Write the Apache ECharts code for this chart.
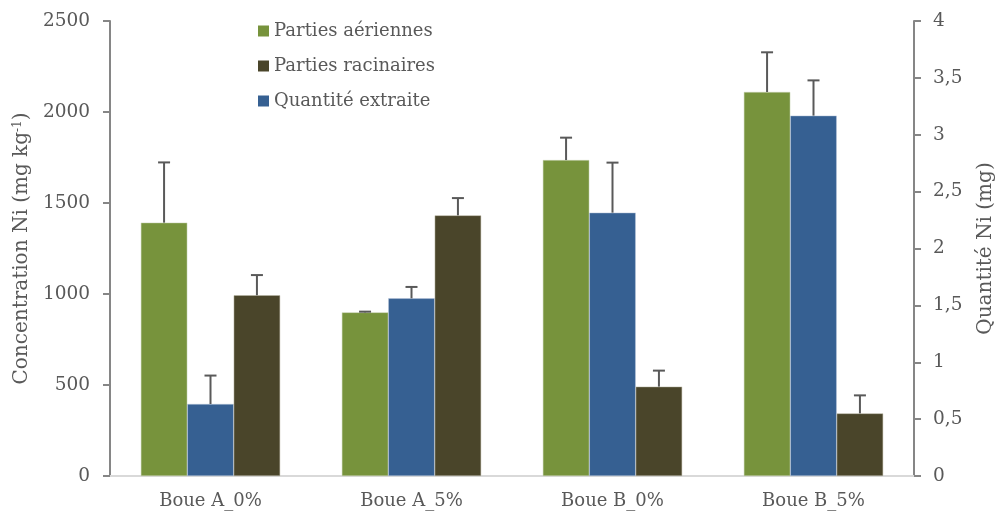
<!DOCTYPE html>
<html>
<head>
<meta charset="utf-8">
<script src="https://cdn.jsdelivr.net/npm/echarts@6/dist/echarts.min.js"></script>
<style>html,body{margin:0;padding:0;background:#fff;}#c{width:997px;height:513px;}</style>
</head>
<body>
<div id="c"></div>
<script>
var categories = ['Boue A_0%', 'Boue A_5%', 'Boue B_0%', 'Boue B_5%'];
var aerial = [1392, 899, 1736, 2110];
var aerialSd = [331, 4, 123, 218];
var root = [993, 1432, 491, 344];
var rootSd = [111, 95, 88, 99];
var extracted = [0.633, 1.562, 2.315, 3.168];
var extractedSd = [0.25, 0.10, 0.44, 0.31];
var leftTicks = [0, 500, 1000, 1500, 2000, 2500];
var rightTicks = [0, 0.5, 1, 1.5, 2, 2.5, 3, 3.5, 4];

var FONT = 'DejaVu Serif';
var TXT = '#595959';
var CAT_GAP = 0.307;

function errData(vals, sds) {
  return vals.map(function (v, i) { return [i, v, v + sds[i]]; });
}
function errSeries(name, vals, sds, pos, yIdx) {
  return {
    type: 'custom',
    name: name + ' err',
    yAxisIndex: yIdx,
    silent: true,
    z: 10,
    data: errData(vals, sds),
    encode: { x: 0, y: [1, 2] },
    renderItem: function (params, api) {
      var cat = api.value(0);
      var base = api.coord([cat, api.value(1)]);
      var top = api.coord([cat, api.value(2)]);
      var bandW = api.size([1, 0])[0];
      var bw = bandW * (1 - CAT_GAP) / 3;
      var x = base[0] + (pos - 1) * bw;
      var half = 6;
      var st = { stroke: '#595959', lineWidth: 2 };
      return {
        type: 'group',
        children: [
          { type: 'line', shape: { x1: x, y1: base[1], x2: x, y2: top[1] }, style: st },
          { type: 'line', shape: { x1: x - half, y1: top[1], x2: x + half, y2: top[1] }, style: st }
        ]
      };
    }
  };
}

var chart = echarts.init(document.getElementById('c'), null, { renderer: 'canvas' });
chart.setOption({
  animation: false,
  textStyle: { fontFamily: FONT, color: TXT },
  grid: { left: 110, right: 83, top: 21, bottom: 37, containLabel: false, outerBoundsMode: 'none' },
  legend: {
    data: ['Parties aériennes', 'Parties racinaires', 'Quantité extraite'],
    orient: 'vertical',
    left: 258,
    top: 22,
    padding: 0,
    itemWidth: 11,
    itemHeight: 11,
    itemGap: 17,
    icon: 'rect',
    itemStyle: { borderWidth: 0 },
    textStyle: { fontFamily: FONT, fontSize: 18, color: TXT }
  },
  xAxis: {
    type: 'category',
    data: categories,
    axisLine: { lineStyle: { color: '#d9d9d9', width: 2 } },
    axisTick: { show: false },
    axisLabel: { fontFamily: FONT, fontSize: 18, color: TXT, margin: 16 }
  },
  yAxis: [
    {
      type: 'value',
      min: leftTicks[0],
      max: leftTicks[leftTicks.length - 1],
      interval: leftTicks[1] - leftTicks[0],
      name: '{a|Concentration Ni (mg kg}{s|-1}{a|)}',
      nameLocation: 'middle',
      nameGap: 75,
      nameRotate: 90,
      nameTextStyle: {
        rich: {
          a: { fontFamily: FONT, fontSize: 20, color: TXT },
          s: { fontFamily: FONT, fontSize: 12, color: TXT, verticalAlign: 'top', padding: [0, 0, 9, 0] }
        }
      },
      splitLine: { show: false },
      axisLine: { show: true, lineStyle: { color: '#868686', width: 2 } },
      axisTick: { show: true, length: 7, lineStyle: { color: '#868686', width: 2 } },
      axisLabel: {
        fontFamily: FONT, fontSize: 18.5, color: TXT, margin: 20,
        formatter: function (v) { return String(v); }
      }
    },
    {
      type: 'value',
      position: 'right',
      min: rightTicks[0],
      max: rightTicks[rightTicks.length - 1],
      interval: rightTicks[1] - rightTicks[0],
      name: 'Quantité Ni (mg)',
      nameLocation: 'middle',
      nameGap: 62,
      nameRotate: 90,
      nameTextStyle: { fontFamily: FONT, fontSize: 20, color: TXT },
      splitLine: { show: false },
      axisLine: { show: true, lineStyle: { color: '#868686', width: 2 } },
      axisTick: { show: true, length: 7, lineStyle: { color: '#868686', width: 2 } },
      axisLabel: {
        fontFamily: FONT, fontSize: 18.5, color: TXT, margin: 19,
        formatter: function (v) { return String(v).replace('.', ','); }
      }
    }
  ],
  series: [
    {
      name: 'Parties aériennes', type: 'bar', yAxisIndex: 0, data: aerial,
      barGap: '0%', barCategoryGap: (CAT_GAP * 100) + '%',
      itemStyle: { color: '#77933C', borderColor: '#c9d3b4', borderWidth: 0.5 }
    },
    {
      name: 'Quantité extraite', type: 'bar', yAxisIndex: 1, data: extracted,
      barGap: '0%', barCategoryGap: (CAT_GAP * 100) + '%',
      itemStyle: { color: '#366092', borderColor: '#b8c7db', borderWidth: 0.5 }
    },
    {
      name: 'Parties racinaires', type: 'bar', yAxisIndex: 0, data: root,
      barGap: '0%', barCategoryGap: (CAT_GAP * 100) + '%',
      itemStyle: { color: '#4A452A', borderColor: '#bdbaa9', borderWidth: 0.5 }
    },
    errSeries('Parties aériennes', aerial, aerialSd, 0, 0),
    errSeries('Quantité extraite', extracted, extractedSd, 1, 1),
    errSeries('Parties racinaires', root, rootSd, 2, 0)
  ]
});
</script>
</body>
</html>
